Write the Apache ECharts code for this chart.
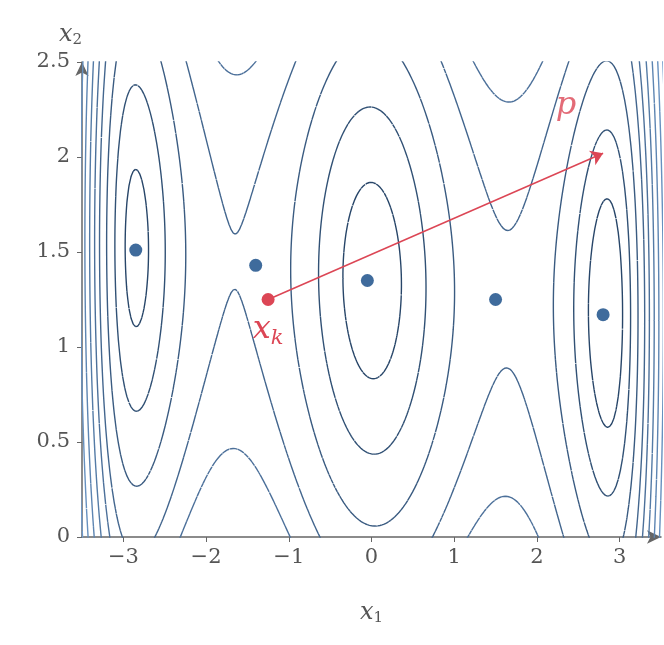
<!DOCTYPE html>
<html>
<head>
<meta charset="UTF-8">
<script src="https://cdn.jsdelivr.net/npm/echarts@6/dist/echarts.min.js"></script>
</head>
<body style="margin:0">
<div id="main" style="width:664px;height:645px;"></div>
<script>
// stationary points (blue) and the step from x_k along p
var minPts = [[-2.85, 1.51], [-1.4, 1.43], [-0.05, 1.35], [1.5, 1.25], [2.8, 1.17]];
var xk = [-1.25, 1.25];
var pEnd = [2.8, 2.02];
var xTicks = [-3, -2, -1, 0, 1, 2, 3];
// contour levels of the objective
var levels = [8, 25, 50, 81.6, 110, 145, 185, 230, 280, 340, 410, 490, 580, 680, 800, 940, 1100];

// objective: triple well in x1, quadratic valley in x2
function f(x, y) {
    var x2 = x * x;
    var g = x2 * (x2 - 8.12) * (x2 - 8.12) - 1 * x;
    var d = y - (1.35 - 0.06 * x);
    return g + 30 * d * d;
}

// marching squares -> line segments separated by nulls
function contour(level) {
    var nx = 280, ny = 120, x0 = -3.6, x1 = 3.6, y0 = -0.1, y1 = 2.6;
    var dx = (x1 - x0) / nx, dy = (y1 - y0) / ny, out = [];
    function lerp(a, b, va, vb) { var t = (level - va) / (vb - va); return [a[0] + t * (b[0] - a[0]), a[1] + t * (b[1] - a[1])]; }
    for (var i = 0; i < nx; i++) {
        for (var j = 0; j < ny; j++) {
            var p = [[x0 + i * dx, y0 + j * dy], [x0 + (i + 1) * dx, y0 + j * dy], [x0 + (i + 1) * dx, y0 + (j + 1) * dy], [x0 + i * dx, y0 + (j + 1) * dy]];
            var v = p.map(function (q) { return f(q[0], q[1]); });
            var pts = [];
            for (var k = 0; k < 4; k++) {
                var a = k, b = (k + 1) % 4;
                if ((v[a] < level) !== (v[b] < level)) pts.push(lerp(p[a], p[b], v[a], v[b]));
            }
            if (pts.length === 2) { out.push(pts[0], pts[1], null); }
            else if (pts.length === 4) { out.push(pts[0], pts[1], null, pts[2], pts[3], null); }
        }
    }
    return out;
}

function lvlColor(i) {
    var t = Math.min(1, i / 9);
    var c0 = [40, 70, 105], c1 = [120, 165, 215];
    return 'rgb(' + c0.map(function (c, k) { return Math.round(c + t * (c1[k] - c)); }).join(',') + ')';
}

var series = levels.map(function (lv, i) {
    return {
        type: 'line', data: contour(lv), showSymbol: false, connectNulls: false,
        lineStyle: { color: lvlColor(i), width: 1.4 }, silent: true, z: 1, animation: false
    };
});
series.push({
    type: 'scatter', data: minPts, symbolSize: 13, itemStyle: { color: '#3f6b9c', opacity: 1 }, z: 5
});
series.push({
    type: 'scatter', data: [xk], symbolSize: 13, itemStyle: { color: '#dc4655', opacity: 1 }, z: 6,
    label: { show: true, position: 'bottom', distance: 4, formatter: '{a|x}{b|k}',
        rich: { a: { fontFamily: 'DejaVu Serif', fontStyle: 'italic', fontSize: 32, color: '#dc4655' },
                b: { fontFamily: 'DejaVu Serif', fontStyle: 'italic', fontSize: 21, color: '#dc4655', padding: [18, 0, 0, 0] } } },
    markLine: {
        silent: true, symbol: ['none', 'arrow'], symbolSize: 12, label: { show: false },
        lineStyle: { color: '#dc4655', type: 'solid', width: 1.5, opacity: 1 },
        data: [[{ coord: xk }, { coord: pEnd }]]
    }
});
series.push({
    type: 'scatter', data: [[2.35, 2.27]], symbolSize: 0, z: 6,
    label: { show: true, formatter: 'p', position: 'inside', fontFamily: 'DejaVu Serif', fontStyle: 'italic', fontSize: 32, color: '#dc4655' }
});

var axisGray = '#666';
var chart = echarts.init(document.getElementById('main'));
chart.setOption({
    animation: false,
    grid: { left: 82, right: 3, top: 62, bottom: 108 },
    xAxis: {
        type: 'value', min: -3.5, max: 3.5, interval: 1,
        axisLine: { onZero: false, lineStyle: { color: axisGray, width: 1.5 }, symbol: ['none', 'arrow'], symbolSize: [10, 14] },
        axisTick: { show: true, length: 5, lineStyle: { color: axisGray }, customValues: xTicks },
        splitLine: { show: false },
        axisLabel: { fontFamily: 'DejaVu Serif', fontSize: 21, color: '#555', margin: 10,
            customValues: xTicks, formatter: function (v) { return String(v).replace('-', '\u2212'); } },
        name: '{a|x}{b|1}', nameLocation: 'middle', nameGap: 62,
        nameTextStyle: { rich: { a: { fontFamily: 'DejaVu Serif', fontStyle: 'italic', fontSize: 24, color: '#555' },
                                  b: { fontFamily: 'DejaVu Serif', fontSize: 15, color: '#555', padding: [12, 0, 0, 0] } } }
    },
    yAxis: {
        type: 'value', min: 0, max: 2.5, interval: 0.5,
        axisLine: { show: true, onZero: false, lineStyle: { color: axisGray, width: 1.5 }, symbol: ['none', 'arrow'], symbolSize: [10, 14] },
        axisTick: { show: true, length: 5, lineStyle: { color: axisGray } },
        splitLine: { show: false },
        axisLabel: { fontFamily: 'DejaVu Serif', fontSize: 21, color: '#555', margin: 12 },
        name: '{a|x}{b|2}', nameLocation: 'end', nameGap: 14,
        nameTextStyle: { align: 'right',
            rich: { a: { fontFamily: 'DejaVu Serif', fontStyle: 'italic', fontSize: 24, color: '#555' },
                    b: { fontFamily: 'DejaVu Serif', fontSize: 15, color: '#555', padding: [12, 0, 0, 0] } } }
    },
    series: series
});
</script>
</body>
</html>
